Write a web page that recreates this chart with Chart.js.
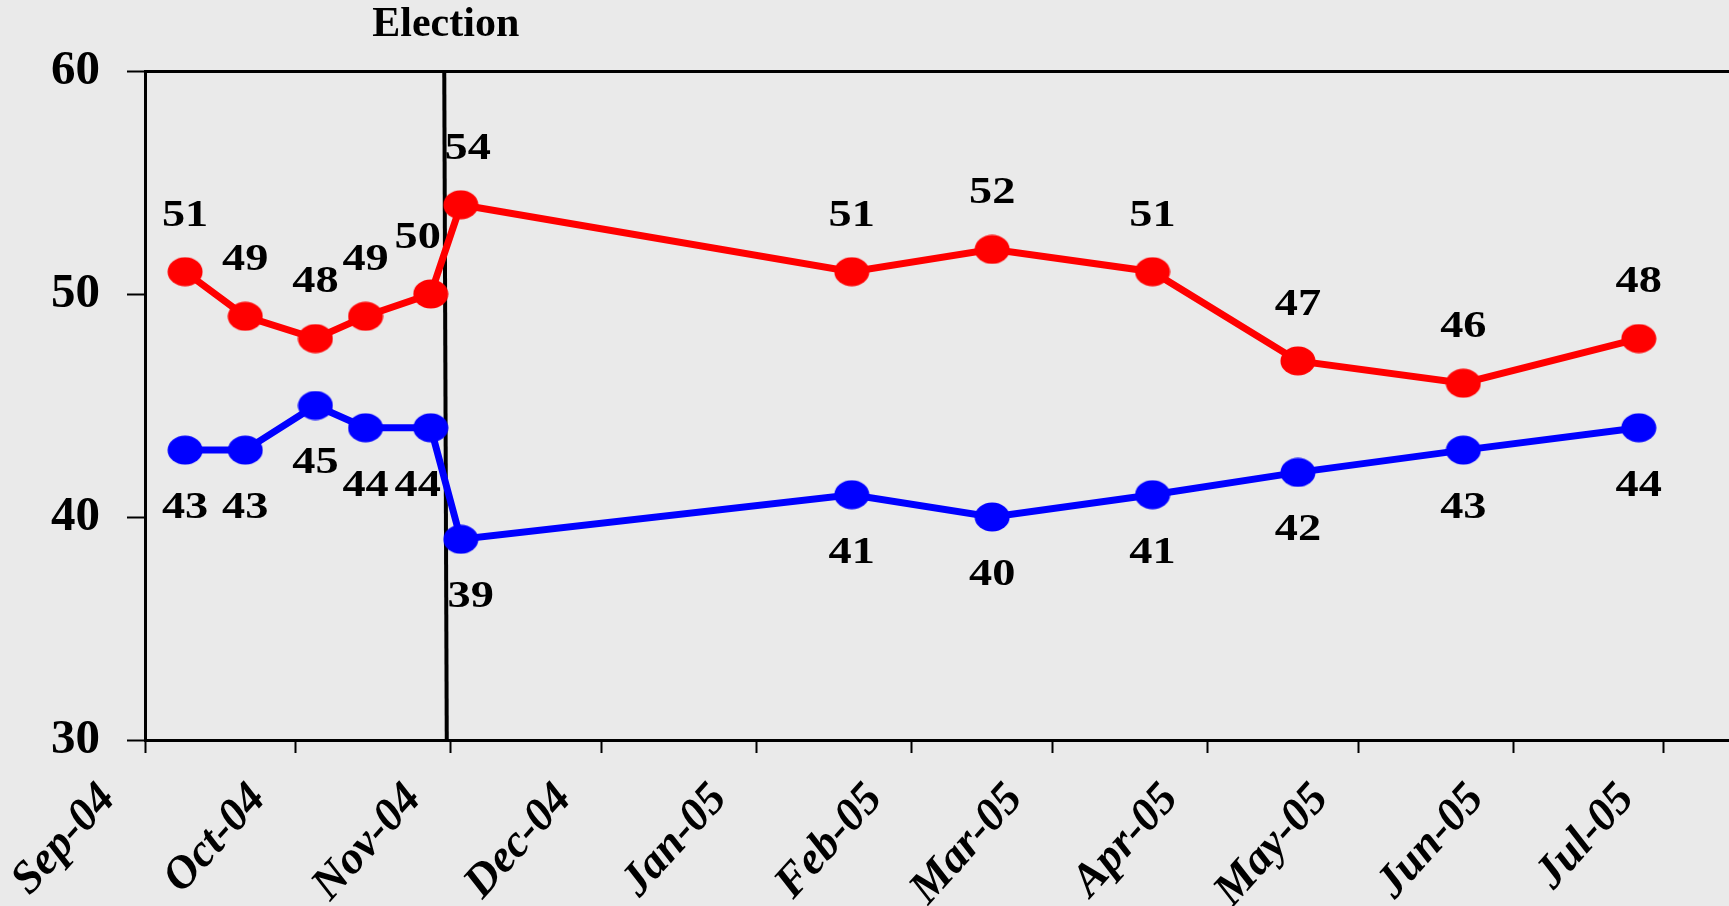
<!DOCTYPE html>
<html>
<head>
<meta charset="utf-8">
<script src="https://cdn.jsdelivr.net/npm/chart.js@4.4.0/dist/chart.umd.min.js"></script>
<style>
  html, body { margin: 0; padding: 0; background: #eaeaea; overflow: hidden; }
  #wrap { width: 1729px; height: 906px; position: relative; }
</style>
</head>
<body>
<div id="wrap"><canvas id="myChart"></canvas></div>
<script>
// poll dates and results
const surveyDates = ['2004-09-09', '2004-09-21', '2004-10-05', '2004-10-15', '2004-10-28', '2004-11-03',
                     '2005-01-20', '2005-02-17', '2005-03-21', '2005-04-19', '2005-05-22', '2005-06-26']
const redValues = [51, 49, 48, 49, 50, 54, 51, 52, 51, 47, 46, 48]
const blueValues = [43, 43, 45, 44, 44, 39, 41, 40, 41, 42, 43, 44]

// axis
const monthTicks = ['2004-09-01', '2004-10-01', '2004-11-01', '2004-12-01', '2005-01-01', '2005-02-01',
                    '2005-03-01', '2005-04-01', '2005-05-01', '2005-06-01', '2005-07-01']
const monthLabels = ['Sep-04', 'Oct-04', 'Nov-04', 'Dec-04', 'Jan-05', 'Feb-05',
                     'Mar-05', 'Apr-05', 'May-05', 'Jun-05', 'Jul-05']
const yTicks = [30, 40, 50, 60]
const axisStart = '2004-09-01'
const axisEnd = '2005-07-14'
const electionDate = '2004-10-31'

// label nudges where labels would collide with the election line
const redShift = [0, 0, 0, 0, -13, 7, 0, 0, 0, 0, 0, 0]
const blueShift = [0, 0, 0, 0, -13, 10, 0, 0, 0, 0, 0, 0]

const dayOf = d => (Date.parse(d) - Date.parse(axisStart)) / 86400000
const serif = '"Liberation Serif", "Times New Roman", serif'

// markers in the original are slightly wider than tall
function makeDot(color) {
    const c = document.createElement('canvas')
    c.width = 36
    c.height = 30
    const g = c.getContext('2d')
    g.fillStyle = color
    g.beginPath()
    g.ellipse(18, 15, 17.5, 14.5, 0, 0, Math.PI * 2)
    g.fill()
    return c
}

const points = values => values.map((v, i) => ({ x: dayOf(surveyDates[i]), y: v }))

// vertical election marker + its caption
const electionPlugin = {
    id: 'election',
    beforeDatasetsDraw(chart) {
        const { ctx, chartArea, scales } = chart
        const px = scales.x.getPixelForValue(dayOf(electionDate))
        ctx.save()
        ctx.strokeStyle = '#000'
        ctx.lineWidth = 4
        ctx.beginPath()
        ctx.moveTo(px - 1.5, chartArea.top)
        ctx.lineTo(px + 1, chartArea.bottom)
        ctx.stroke()
        ctx.font = `bold 42px ${serif}`
        ctx.fillStyle = '#000'
        ctx.textAlign = 'center'
        ctx.textBaseline = 'middle'
        ctx.fillText('Election', px, 25)
        ctx.restore()
    }
}

// numbers above / below each point
const valueLabels = {
    id: 'valueLabels',
    afterDatasetsDraw(chart) {
        const ctx = chart.ctx
        ctx.save()
        ctx.font = `bold 38px ${serif}`
        ctx.fillStyle = '#000'
        ctx.textAlign = 'center'
        ctx.textBaseline = 'middle'
        chart.data.datasets.forEach((ds, i) => {
            chart.getDatasetMeta(i).data.forEach((pt, j) => {
                ctx.save()
                ctx.translate(pt.x + ds.labelShift[j], pt.y + ds.labelGap)
                ctx.scale(1.22, 1)
                ctx.fillText(ds.data[j].y, 0, 0)
                ctx.restore()
            })
        })
        ctx.restore()
    }
}

const config = {
    type: 'line',
    data: {
        datasets: [{
            data: points(redValues),
            borderColor: '#ff0000',
            borderWidth: 7,
            pointStyle: makeDot('#ff0000'),
            labelShift: redShift,
            labelGap: -56
        }, {
            data: points(blueValues),
            borderColor: '#0000ff',
            borderWidth: 7,
            pointStyle: makeDot('#0000ff'),
            labelShift: blueShift,
            labelGap: 58
        }]
    },
    options: {
        responsive: true,
        maintainAspectRatio: false,
        animation: false,
        events: [],
        layout: { autoPadding: false, padding: { top: 71, left: 0, right: 0, bottom: 0 } },
        plugins: { legend: { display: false }, tooltip: { enabled: false } },
        scales: {
            x: {
                type: 'linear',
                min: 0,
                max: dayOf(axisEnd),
                afterBuildTicks: s => { s.ticks = monthTicks.map(d => ({ value: dayOf(d) })) },
                afterFit: s => {
                    s.height = 166
                    s.paddingLeft = 0
                    s.paddingRight = 0
                },
                ticks: {
                    autoSkip: false,
                    minRotation: 48,
                    maxRotation: 48,
                    labelOffset: -37,
                    padding: 20,
                    color: '#000',
                    font: { family: serif, size: 46, weight: 'bold', style: 'italic' },
                    callback: (v, i) => monthLabels[i]
                },
                grid: { drawOnChartArea: false, tickLength: 13, tickColor: '#000', tickWidth: 2 },
                border: { color: '#000', width: 3 }
            },
            y: {
                min: 30,
                max: 60,
                afterBuildTicks: s => { s.ticks = yTicks.map(v => ({ value: v })) },
                afterFit: s => { s.width = 145 },
                ticks: {
                    padding: 27,
                    color: '#000',
                    font: { family: serif, size: 49, weight: 'bold' }
                },
                grid: {
                    color: c => (c.tick && c.tick.value === 60 ? '#000' : 'transparent'),
                    lineWidth: 3,
                    tickLength: 18,
                    tickColor: '#000',
                    tickWidth: 2
                },
                border: { color: '#000', width: 3 }
            }
        }
    },
    plugins: [electionPlugin, valueLabels]
}

const myChart = new Chart(document.getElementById('myChart'), config)
</script>
</body>
</html>
